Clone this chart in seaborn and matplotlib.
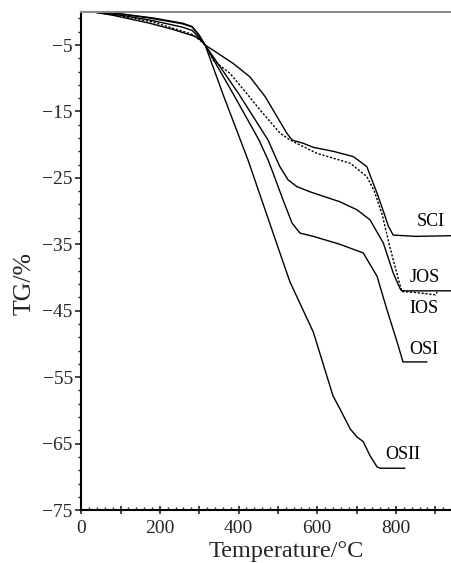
import numpy as np
import pandas as pd
import matplotlib
matplotlib.use("Agg")
import matplotlib.pyplot as plt
from matplotlib.ticker import FixedLocator, MultipleLocator, FuncFormatter
import seaborn as sns

# Thermogravimetric curves: temperature (°C) vs mass loss TG (%)
temp_sci = [28, 86, 180, 257, 282, 300, 315, 336, 387, 429, 468, 498, 523, 536, 565, 590, 641, 692, 726, 752, 768, 781, 793, 850, 940]
tg_sci = [0, -0.2, -0.9, -1.7, -2.2, -3.5, -5.0, -5.8, -7.8, -9.8, -12.8, -15.8, -18.3, -19.3, -19.8, -20.4, -21.0, -21.8, -23.3, -27.3, -30.0, -32.3, -33.6, -33.8, -33.7]

temp_jos = [28, 86, 180, 257, 282, 300, 315, 400, 475, 495, 505, 526, 548, 582, 658, 701, 734, 768, 793, 810, 815, 940]
tg_jos = [0, -0.2, -1.0, -1.8, -2.3, -3.6, -5.0, -12.3, -19.3, -22.0, -23.3, -25.3, -26.3, -27.1, -28.6, -29.8, -31.3, -34.8, -39.3, -41.6, -42.0, -42.0]

temp_ios = [28, 100, 180, 257, 282, 300, 315, 336, 379, 425, 455, 506, 531, 599, 684, 726, 745, 765, 785, 803, 815, 860, 900, 905]
tg_ios = [0, -0.6, -1.5, -2.9, -3.4, -4.2, -5.0, -7.3, -9.3, -12.6, -14.8, -18.3, -19.3, -21.3, -22.8, -24.8, -27.0, -30.5, -35.5, -39.5, -42.1, -42.3, -42.6, -42.2]

temp_osi = [28, 100, 180, 257, 282, 300, 315, 383, 452, 475, 488, 513, 536, 556, 590, 658, 717, 752, 777, 803, 818, 879]
tg_osi = [0, -0.5, -1.3, -2.3, -2.8, -3.9, -5.0, -12.0, -19.3, -22.3, -24.3, -28.3, -31.8, -33.3, -33.8, -35.0, -36.3, -39.8, -44.8, -49.7, -52.7, -52.7]

temp_osii = [28, 79, 173, 230, 290, 307, 315, 361, 424, 511, 531, 590, 640, 658, 684, 701, 717, 734, 752, 760, 823]
tg_osii = [0, -0.5, -1.7, -2.6, -3.7, -4.4, -5.0, -12.5, -22.3, -37.3, -40.7, -48.2, -57.8, -59.8, -62.8, -64.0, -64.7, -66.8, -68.5, -68.7, -68.7]

samples = ["SCI", "JOS", "IOS", "OSI", "OSII"]
label_x = [889, 874, 871, 871, 818]
label_y = [-31.6, -40.0, -44.6, -50.8, -66.7]

series = {
    "SCI": (temp_sci, tg_sci),
    "JOS": (temp_jos, tg_jos),
    "IOS": (temp_ios, tg_ios),
    "OSI": (temp_osi, tg_osi),
    "OSII": (temp_osii, tg_osii),
}
df = pd.concat(
    [pd.DataFrame({"T": t, "TG": g, "sample": name}) for name, (t, g) in series.items()],
    ignore_index=True,
)

sns.set_theme(style="ticks")
plt.rcParams["font.family"] = ["Liberation Serif", "DejaVu Serif"]
plt.rcParams["axes.unicode_minus"] = True

fig = plt.figure(figsize=(4.51, 5.63), dpi=100)
ax = fig.add_axes([0.18, 0.094, 0.82, 0.885])

for name in samples:
    sub = df[df["sample"] == name]
    ls = (0, (1.6, 1.2)) if name == "IOS" else "-"
    sns.lineplot(data=sub, x="T", y="TG", ax=ax, color="black", lw=1.0,
                 linestyle=ls, sort=False, estimator=None)

for name, lx, ly in zip(samples, label_x, label_y):
    ax.text(lx, ly, name, fontsize=13, ha="center", va="center", color="black")

ax.set_xlim(0, 940)
ax.set_ylim(-75, 0)

ax.xaxis.set_major_locator(MultipleLocator(100))
ax.xaxis.set_minor_locator(MultipleLocator(20))
ax.xaxis.set_major_formatter(FuncFormatter(lambda v, p: f"{int(v)}" if int(round(v)) % 200 == 0 else ""))
ax.yaxis.set_major_locator(FixedLocator(np.arange(-75, 0, 10)))
ax.yaxis.set_minor_locator(FixedLocator(np.arange(-75, 0, 2)))
ax.yaxis.set_major_formatter(FuncFormatter(lambda v, p: f"{int(v)}".replace("-", "\u2212")))

ax.tick_params(axis="x", which="major", direction="inout", length=6, width=1.2, labelsize=14, pad=4)
ax.tick_params(axis="x", which="minor", direction="in", length=2.2, width=1.0)
ax.tick_params(axis="y", which="major", direction="out", length=4, width=1.2, labelsize=14, pad=2)
ax.tick_params(axis="y", which="minor", direction="out", length=2.2, width=1.0)

ax.set_xlabel("Temperature/°C", fontsize=17.5)
ax.set_ylabel("TG/%", fontsize=18.5)
ax.xaxis.set_label_coords(0.553, -0.062)
ax.yaxis.set_label_coords(-0.122, 0.455)

for side in ["left", "bottom"]:
    ax.spines[side].set_color("black")
    ax.spines[side].set_linewidth(1.5)
ax.spines["top"].set_color("#8a8a8a")
ax.spines["top"].set_linewidth(1.5)
ax.spines["right"].set_visible(False)

fig.savefig("out.png", dpi=100)
